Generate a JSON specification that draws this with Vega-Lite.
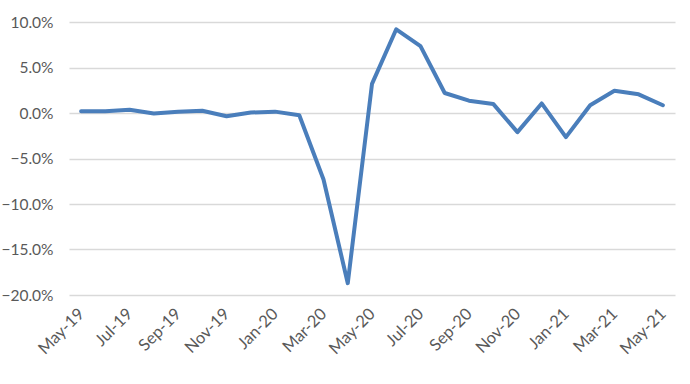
{
  "$schema": "https://vega.github.io/schema/vega-lite/v6.json",
  "width": 606,
  "height": 273,
  "autosize": {"type": "none"},
  "padding": {"left": 69, "top": 22, "right": 15, "bottom": 89},
  "background": "white",
  "config": {"view": {"stroke": null}, "font": "Lato"},
  "data": {"values": [
    {"month": "May-19", "v": 0.002},
    {"month": "Jun-19", "v": 0.002},
    {"month": "Jul-19", "v": 0.0035},
    {"month": "Aug-19", "v": -0.0005},
    {"month": "Sep-19", "v": 0.0015},
    {"month": "Oct-19", "v": 0.0025},
    {"month": "Nov-19", "v": -0.0035},
    {"month": "Dec-19", "v": 0.0005},
    {"month": "Jan-20", "v": 0.0015},
    {"month": "Feb-20", "v": -0.0025},
    {"month": "Mar-20", "v": -0.073},
    {"month": "Apr-20", "v": -0.187},
    {"month": "May-20", "v": 0.032},
    {"month": "Jun-20", "v": 0.092},
    {"month": "Jul-20", "v": 0.0735},
    {"month": "Aug-20", "v": 0.022},
    {"month": "Sep-20", "v": 0.0135},
    {"month": "Oct-20", "v": 0.01},
    {"month": "Nov-20", "v": -0.021},
    {"month": "Dec-20", "v": 0.0105},
    {"month": "Jan-21", "v": -0.0265},
    {"month": "Feb-21", "v": 0.0085},
    {"month": "Mar-21", "v": 0.0245},
    {"month": "Apr-21", "v": 0.0205},
    {"month": "May-21", "v": 0.0085}
  ]},
  "mark": {"type": "line", "color": "#4A7EBB", "strokeWidth": 4, "strokeJoin": "round", "strokeCap": "round"},
  "encoding": {
    "x": {
      "field": "month", "type": "ordinal", "sort": null,
      "scale": {"type": "point", "padding": 0.5},
      "axis": {
        "title": null, "domain": false, "ticks": false, "grid": false,
        "values": ["May-19","Jul-19","Sep-19","Nov-19","Jan-20","Mar-20","May-20","Jul-20","Sep-20","Nov-20","Jan-21","Mar-21","May-21"],
        "labelAngle": -45, "labelAlign": "right", "labelBaseline": "middle",
        "labelFontSize": 16.5, "labelColor": "#595959", "labelPadding": 16, "labelFont": "Lato"
      }
    },
    "y": {
      "field": "v", "type": "quantitative",
      "scale": {"domain": [-0.2, 0.1], "nice": false, "zero": false},
      "axis": {
        "title": null, "domain": false, "ticks": false, "format": ".1%",
        "values": [-0.2, -0.15, -0.1, -0.05, 0, 0.05, 0.1],
        "gridColor": "#D9D9D9", "gridWidth": 1.3,
        "labelFontSize": 15.5, "labelColor": "#595959", "labelPadding": 16, "labelFont": "Lato"
      }
    }
  }
}
